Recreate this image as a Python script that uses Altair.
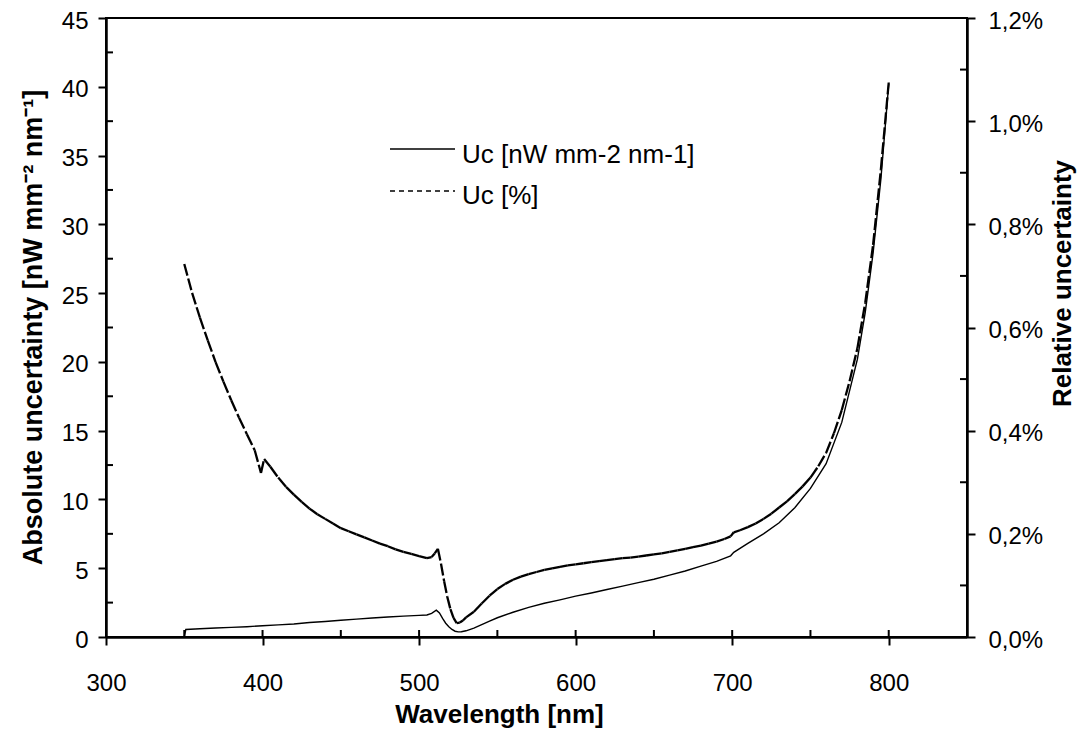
import altair as alt
import pandas as pd

# ---- data ----
# absolute uncertainty, left axis [nW mm-2 nm-1]
wl_abs = [350, 351, 360, 370, 380, 390, 400, 410, 420, 430, 440, 450, 460, 470, 480, 490,
          500, 505, 508, 511, 513, 515, 517, 519, 521, 523, 525, 527, 530, 535, 540, 545,
          550, 560, 570, 580, 590, 600, 610, 620, 630, 640, 650, 660, 670, 680, 690, 699,
          701, 710, 720, 730, 740, 750, 760, 770, 780, 785, 790, 795, 800]
u_abs = [0.0, 0.55, 0.6, 0.65, 0.7, 0.75, 0.82, 0.88, 0.95, 1.05, 1.13, 1.22, 1.3, 1.38, 1.45, 1.52,
         1.57, 1.6, 1.72, 1.95, 1.75, 1.35, 1.0, 0.75, 0.55, 0.42, 0.37, 0.38, 0.45, 0.65, 0.9, 1.15,
         1.4, 1.8, 2.15, 2.45, 2.7, 2.97, 3.2, 3.45, 3.7, 3.95, 4.2, 4.5, 4.8, 5.15, 5.5, 5.9,
         6.15, 6.8, 7.5, 8.3, 9.4, 10.8, 12.6, 15.6, 20.2, 23.6, 27.9, 33.3, 40.2]

# relative uncertainty, right axis [%]
wl_rel = [350, 355, 360, 365, 370, 375, 380, 385, 390, 395, 399, 401, 405, 410, 415, 420,
          425, 430, 435, 440, 445, 450, 455, 460, 465, 470, 475, 480, 485, 490, 495, 500,
          505, 508, 510, 512, 514, 516, 518, 520, 522, 524, 526, 528, 530, 535, 540, 545,
          550, 555, 560, 565, 570, 575, 580, 585, 590, 595, 600, 605, 610, 615, 620, 625,
          630, 635, 640, 645, 650, 655, 660, 665, 670, 675, 680, 685, 690, 695, 699, 701,
          705, 710, 715, 720, 725, 730, 735, 740, 745, 750, 755, 760, 765, 770, 775, 780,
          785, 790, 795, 800]
u_rel = [0.723, 0.667, 0.619, 0.575, 0.533, 0.495, 0.459, 0.425, 0.393, 0.362, 0.318, 0.345, 0.330, 0.309, 0.291, 0.276,
         0.262, 0.249, 0.238, 0.229, 0.220, 0.211, 0.205, 0.199, 0.193, 0.187, 0.181, 0.176, 0.170, 0.165, 0.161, 0.157,
         0.153, 0.155, 0.162, 0.171, 0.142, 0.108, 0.078, 0.054, 0.037, 0.027, 0.028, 0.032, 0.038, 0.049, 0.065, 0.080,
         0.093, 0.103, 0.111, 0.117, 0.122, 0.126, 0.130, 0.133, 0.136, 0.139, 0.141, 0.143, 0.145, 0.147, 0.149, 0.151,
         0.153, 0.154, 0.156, 0.158, 0.160, 0.162, 0.165, 0.168, 0.171, 0.174, 0.177, 0.181, 0.185, 0.190, 0.195, 0.203,
         0.207, 0.213, 0.220, 0.229, 0.239, 0.251, 0.263, 0.277, 0.292, 0.309, 0.331, 0.357, 0.395, 0.440, 0.496, 0.560,
         0.648, 0.760, 0.907, 1.075]

x_major = [300, 400, 500, 600, 700, 800]
x_inner = [350, 400, 450, 500, 550, 600, 650, 700, 750, 800]
yl_major = [0, 5, 10, 15, 20, 25, 30, 35, 40, 45]
yl_minor = [2.5, 7.5, 12.5, 17.5, 22.5, 27.5, 32.5, 37.5, 42.5]
yr_major = [0.0, 0.2, 0.4, 0.6, 0.8, 1.0, 1.2]
yr_minor = [0.1, 0.3, 0.5, 0.7, 0.9, 1.1]
legend_labels = ["Uc [nW mm-2 nm-1]", "Uc [%]"]

W, H = 861, 619
FONT = "Liberation Sans"
LBL = 24
TTL = 26

abs_df = pd.DataFrame({"x": wl_abs, "y": u_abs})
seg_df = pd.DataFrame({"x": wl_rel[:-1], "x2": wl_rel[1:], "y": u_rel[:-1], "y2": u_rel[1:]})
xin_df = pd.DataFrame({"x": x_inner})
ylm_df = pd.DataFrame({"y": yl_minor})
yrm_df = pd.DataFrame({"y": yr_minor})
one = pd.DataFrame({"k": [0]})

X = alt.X("x:Q", scale=alt.Scale(domain=[300, 850], nice=False, zero=False),
          axis=alt.Axis(values=x_major, title="Wavelength [nm]", grid=False, labelFlush=False,
                        tickSize=8, tickWidth=2, domainWidth=2.5, domainColor="black",
                        tickColor="black", labelFontSize=LBL, labelPadding=26,
                        labelColor="black", titleFontSize=TTL, titleFontWeight="bold",
                        titleColor="black", titleX=393, titleY=77, titleBaseline="middle",
                        titleAlign="center", labelFont=FONT, titleFont=FONT))

YL = alt.Y("y:Q", scale=alt.Scale(domain=[0, 45], nice=False),
           axis=alt.Axis(values=yl_major, orient="left", grid=False, labelFlush=False,
                         title="Absolute uncertainty  [nW mm⁻² nm⁻¹]",
                         tickSize=8, tickWidth=2, domainWidth=2.5, domainColor="black",
                         tickColor="black", labelFontSize=LBL, labelPadding=10, labelOffset=3,
                         labelColor="black", titleFontSize=27, titleFontWeight="bold",
                         titleColor="black", titleAngle=270, titleX=-73, titleY=309,
                         titleBaseline="middle", titleAlign="center",
                         labelFont=FONT, titleFont=FONT))

YR = alt.Y("y:Q", scale=alt.Scale(domain=[0, 1.2], nice=False),
           axis=alt.Axis(values=yr_major, orient="right", grid=False, labelFlush=False,
                         title="Relative uncertainty",
                         labelExpr="replace(format(datum.value, '.1f'), '.', ',') + '%'",
                         tickSize=8, tickWidth=2, domainWidth=2.5, domainColor="black",
                         tickColor="black", labelFontSize=LBL, labelPadding=13, labelOffset=3,
                         labelColor="black", titleFontSize=TTL, titleFontWeight="bold",
                         titleColor="black", titleAngle=270, titleX=95, titleY=265,
                         titleBaseline="middle", titleAlign="center",
                         labelFont=FONT, titleFont=FONT))

abs_line = alt.Chart(abs_df).mark_line(color="black", strokeWidth=1.4).encode(x=X, y=YL)

x_in_ticks = alt.Chart(xin_df).mark_rule(color="black", strokeWidth=2).encode(
    x=X, y=alt.value(H), y2=alt.value(H - 7))

yl_in_ticks = alt.Chart(ylm_df).mark_rule(color="black", strokeWidth=2).encode(
    y=YL, x=alt.value(0), x2=alt.value(7))

leg1_line = alt.Chart(one).mark_rule(color="black", strokeWidth=1.4).encode(
    x=alt.value(284), x2=alt.value(349), y=alt.value(131))
leg1_text = alt.Chart(one).mark_text(text=legend_labels[0], align="left", baseline="middle",
                                     fontSize=26, font=FONT, color="black").encode(
    x=alt.value(356), y=alt.value(137))
leg2_line = alt.Chart(one).mark_rule(color="black", strokeWidth=1.5, strokeDash=[5, 4]).encode(
    x=alt.value(284), x2=alt.value(349), y=alt.value(173))
leg2_text = alt.Chart(one).mark_text(text=legend_labels[1], align="left", baseline="middle",
                                     fontSize=26, font=FONT, color="black").encode(
    x=alt.value(356), y=alt.value(178))

layer_left = alt.layer(abs_line, x_in_ticks, yl_in_ticks, leg1_line, leg1_text, leg2_line, leg2_text)

rel_segs = alt.Chart(seg_df).mark_rule(color="black", strokeWidth=2.3, strokeDash=[12, 3]).encode(
    x=X, x2="x2:Q", y=YR, y2="y2:Q")

yr_in_ticks = alt.Chart(yrm_df).mark_rule(color="black", strokeWidth=2).encode(
    y=YR, x=alt.value(W - 7), x2=alt.value(W))

layer_right = alt.layer(rel_segs, yr_in_ticks)

chart = alt.layer(layer_left, layer_right).resolve_scale(y="independent").properties(
    width=W, height=H,
    autosize=alt.AutoSizeParams(type="none"),
    padding={"left": 98, "top": 10, "right": 111, "bottom": 93},
    background="white",
).configure_view(stroke="black", strokeWidth=2)

chart.save("out.html", embed_options={"renderer": "svg", "actions": False})
